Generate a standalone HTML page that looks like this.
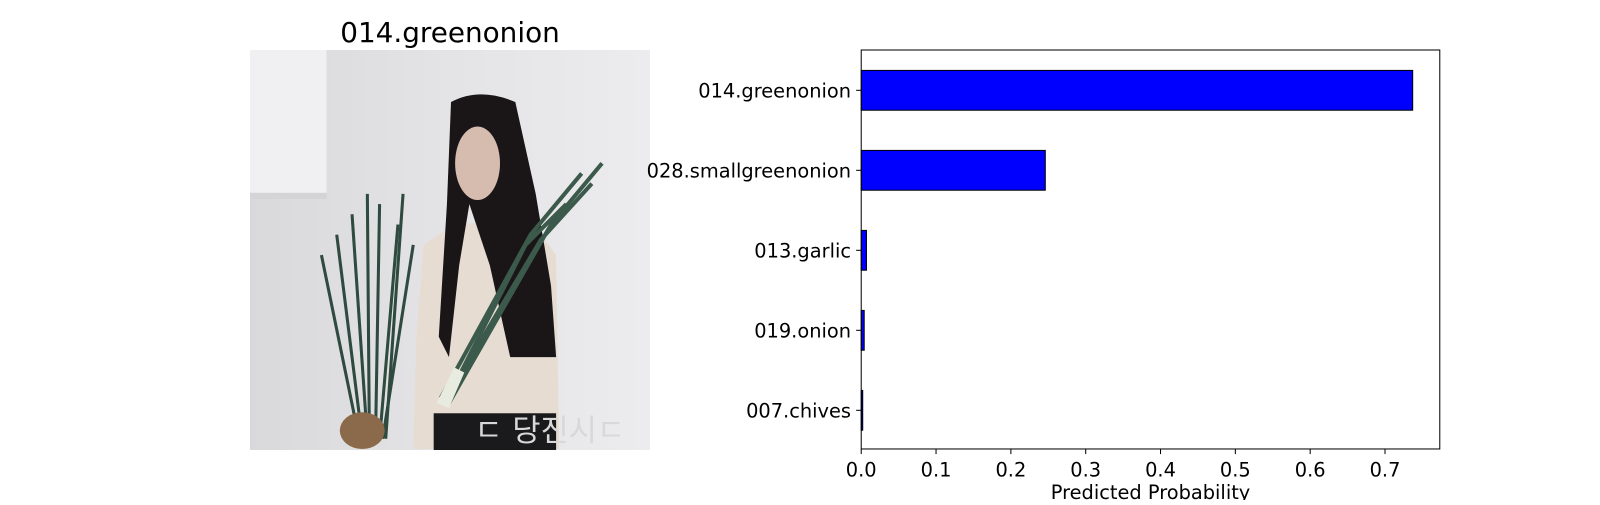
<!DOCTYPE html>
<html><head><meta charset="utf-8"><style>
body{margin:0;background:#fff;}
svg text{font-family:"DejaVu Sans","Liberation Sans",sans-serif;}
</style></head><body>
<svg width="1600" height="500" viewBox="0 0 1600 500">
<g transform="scale(1.0204)">
<text x="441" y="41" font-size="27.3" text-anchor="middle">014.greenonion</text>
<g>
<defs><linearGradient id="bg" x1="0" y1="0" x2="1" y2="0"><stop offset="0" stop-color="#d9d9db"/><stop offset="0.5" stop-color="#e4e4e6"/><stop offset="1" stop-color="#ececee"/></linearGradient></defs>
<rect x="245" y="49" width="392" height="392" fill="url(#bg)"/>
<rect x="245" y="49" width="75" height="140" fill="#f0f0f2"/>
<rect x="245" y="189" width="75" height="6" fill="#d4d4d6"/>
<path d="M415 240 L445 220 L520 215 L545 250 L548 440 L405 440 L408 330 Z" fill="#e6dcd2"/>
<path d="M442 100 Q470 85 505 100 L525 190 L540 280 L545 350 L500 350 L480 260 L460 200 L450 260 L440 350 L430 330 L438 200 Z" fill="#1a1618"/>
<ellipse cx="468" cy="160" rx="22" ry="36" fill="#d6bcae"/>
<rect x="425" y="405" width="120" height="36" fill="#1a1a1c"/>
<g stroke="#2f4a3f" stroke-width="3" fill="none">
<path d="M355 430 L330 230"/><path d="M360 430 L345 210"/><path d="M362 430 L360 190"/><path d="M368 430 L372 200"/><path d="M372 430 L390 220"/><path d="M375 430 L405 240"/><path d="M352 430 L315 250"/><path d="M378 430 L395 190"/>
</g>
<ellipse cx="355" cy="422" rx="22" ry="18" fill="#8a6a4a"/>
<g stroke="#3c5a4c" stroke-width="4" fill="none">
<path d="M432 390 L520 230 L570 170"/><path d="M435 395 L530 235 L580 180"/><path d="M438 392 L515 240 L555 200"/><path d="M440 395 L540 220 L590 160"/>
</g>
<path d="M428 395 L445 360 L455 365 L440 400 Z" fill="#e8ece0"/>
<text x="465" y="432" font-size="30" fill="#d8d8d8" font-family="Noto Sans CJK KR,sans-serif">ㄷ 당진시ㄷ</text>
</g>
<g id="chart"></g>
</g>
</svg>
<script>
const categories=["014.greenonion","028.smallgreenonion","013.garlic","019.onion","007.chives"];
const probabilities=[0.737,0.246,0.007,0.004,0.002];
const xTicks=[0,0.1,0.2,0.3,0.4,0.5,0.6,0.7];
const tickLabels=["0.0","0.1","0.2","0.3","0.4","0.5","0.6","0.7"];
const NS="http://www.w3.org/2000/svg";
const L=844,R=1411,T=49,B=440;
const xs=v=>L+v*733.3;
const step=78.4, y0=88.5;
const ys=i=>y0+i*step;
const g=document.getElementById('chart');
function mk(t,a){const e=document.createElementNS(NS,t);for(const k in a)e.setAttribute(k,a[k]);g.appendChild(e);return e;}
categories.forEach((c,i)=>{
 const r=mk('rect',{x:L,y:ys(i)-19.5,width:Math.max(xs(probabilities[i])-L,0.5),height:39,fill:'#0000ff',stroke:'#000','stroke-width':1});
 
 
 mk('line',{x1:L-5,x2:L,y1:ys(i),y2:ys(i),stroke:'#000'});
 const t=mk('text',{x:L-10,y:ys(i)+7,'font-size':19,'text-anchor':'end'});t.textContent=c;
 
 
});
xTicks.forEach((v,i)=>{
 mk('line',{x1:xs(v),x2:xs(v),y1:B,y2:B+5,stroke:'#000'});
 const t=mk('text',{x:xs(v),y:B+27,'font-size':19,'text-anchor':'middle'});t.textContent=tickLabels[i];
 
 
});
const f=mk('rect',{x:L,y:T,width:R-L,height:B-T,fill:'none',stroke:'#000','stroke-width':1});


const xl=mk('text',{x:(L+R)/2,y:B+49,'font-size':19,'text-anchor':'middle'});xl.textContent='Predicted Probability';


</script>
</body></html>
